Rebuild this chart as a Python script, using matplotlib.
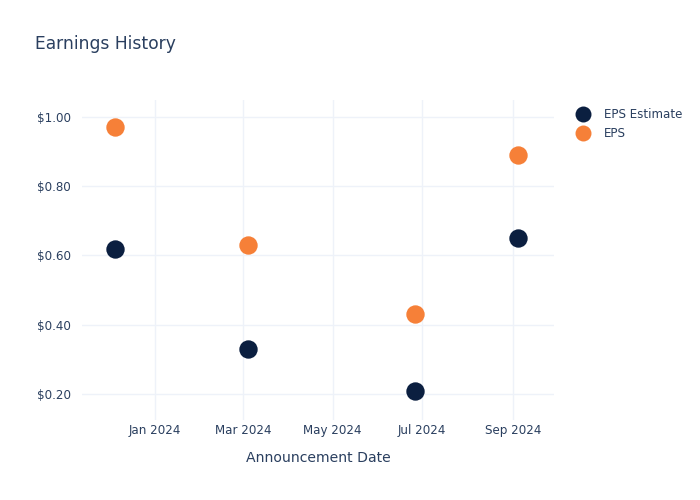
import matplotlib
matplotlib.use("Agg")
import matplotlib.pyplot as plt
from matplotlib.lines import Line2D
import datetime as dt

dates = ["2023-12-05", "2024-03-04", "2024-06-26", "2024-09-04"]
eps_estimate = [0.62, 0.33, 0.21, 0.65]
eps_actual = [0.97, 0.63, 0.43, 0.89]
tick_dates = ["2024-01-01", "2024-03-01", "2024-05-01", "2024-07-01", "2024-09-01"]
tick_labels = ["Jan 2024", "Mar 2024", "May 2024", "Jul 2024", "Sep 2024"]
y_ticks = [0.2, 0.4, 0.6, 0.8, 1.0]

TEXT = "#2a3f5f"
GRID = "#eef2f9"
NAVY = "#0b1f40"
ORANGE = "#f68038"

plt.rcParams['font.family'] = ['DejaVu Sans']

x = [dt.datetime.strptime(d, "%Y-%m-%d") for d in dates]
xt = [dt.datetime.strptime(d, "%Y-%m-%d") for d in tick_dates]

fig = plt.figure(figsize=(7, 5), dpi=100)
ax = fig.add_axes([82/700, 80/500, (554-82)/700, 320/500])

ax.scatter(x, eps_estimate, s=175, color=NAVY, zorder=3, linewidths=0)
ax.scatter(x, eps_actual, s=175, color=ORANGE, zorder=3, linewidths=0)

ax.set_xlim(dt.datetime(2023, 11, 12, 6), dt.datetime(2024, 9, 28, 18))
ax.set_ylim(0.1249, 1.0491)
ax.set_xticks(xt)
ax.set_xticklabels(tick_labels)
ax.set_yticks(y_ticks)
ax.set_yticklabels([f"${v:.2f}" for v in y_ticks])
ax.tick_params(axis='both', length=0, colors=TEXT, labelsize=8.6)
ax.tick_params(axis='x', pad=3)
ax.tick_params(axis='y', pad=8)
ax.grid(True, color=GRID, linewidth=1)
ax.set_axisbelow(True)
for s in ax.spines.values():
    s.set_visible(False)

ax.set_xlabel("Announcement Date", color=TEXT, fontsize=10.1, labelpad=10)
fig.text(35/700, 1 - 44/500, "Earnings History", color=TEXT, fontsize=12.3, va='center', ha='left')

handles = [Line2D([], [], marker='o', linestyle='', markersize=11.5, color=NAVY, markeredgewidth=0),
           Line2D([], [], marker='o', linestyle='', markersize=11.5, color=ORANGE, markeredgewidth=0)]
leg = fig.legend(handles, ["EPS Estimate", "EPS"], loc='upper left',
                 bbox_to_anchor=(569/700, 1 - 103/500), frameon=False,
                 fontsize=8.6, labelcolor=TEXT, handletextpad=1.05,
                 labelspacing=0.52, borderaxespad=0, handlelength=1.5)

fig.savefig("out.png", dpi=100)
